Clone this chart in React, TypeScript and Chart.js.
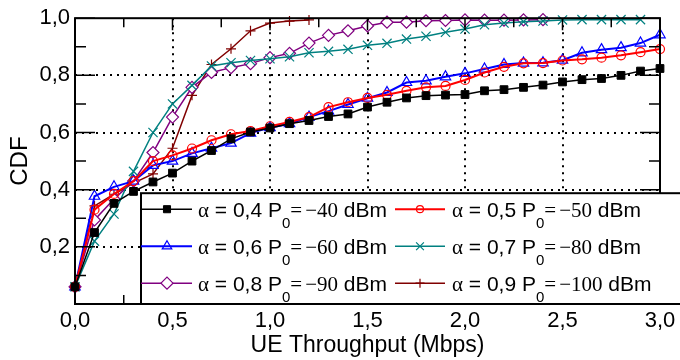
import React, { useEffect, useRef } from 'react';
import { Chart, registerables } from 'chart.js';
import { drawPoint } from 'chart.js/helpers';

Chart.register(...registerables);

// ---------- data ----------
const throughput = [
  0.0, 0.1, 0.2, 0.3, 0.4, 0.5, 0.6, 0.7, 0.8, 0.9,
  1.0, 1.1, 1.2, 1.3, 1.4, 1.5, 1.6, 1.7, 1.8, 1.9,
  2.0, 2.1, 2.2, 2.3, 2.4, 2.5, 2.6, 2.7, 2.8, 2.9, 3.0,
];

const cdfA04 = [
  0.06, 0.25, 0.352, 0.394, 0.427, 0.458, 0.5, 0.537, 0.578, 0.602,
  0.616, 0.631, 0.642, 0.656, 0.665, 0.689, 0.706, 0.721, 0.729, 0.731,
  0.733, 0.746, 0.75, 0.758, 0.766, 0.777, 0.785, 0.789, 0.8, 0.815, 0.824,
];
const cdfA05 = [
  0.06, 0.33, 0.385, 0.43, 0.5, 0.52, 0.544, 0.573, 0.594, 0.605,
  0.622, 0.637, 0.654, 0.689, 0.706, 0.721, 0.732, 0.746, 0.758, 0.763,
  0.784, 0.81, 0.83, 0.842, 0.843, 0.852, 0.856, 0.862, 0.87, 0.881, 0.892,
];
const cdfA06 = [
  0.06, 0.377, 0.41, 0.43, 0.485, 0.5, 0.527, 0.545, 0.563, 0.598,
  0.617, 0.631, 0.654, 0.675, 0.698, 0.72, 0.74, 0.775, 0.781, 0.795,
  0.807, 0.822, 0.838, 0.843, 0.844, 0.853, 0.879, 0.89, 0.897, 0.913, 0.942,
];
const cdfA07 = [
  0.06, 0.22, 0.315, 0.464, 0.6, 0.7, 0.765, 0.833, 0.844, 0.852,
  0.858, 0.865, 0.879, 0.884, 0.891, 0.905, 0.912, 0.927, 0.937, 0.951,
  0.962, 0.977, 0.983, 0.988, 0.99, 0.994, 0.995, 0.995, 0.995, 0.995,
];
const cdfA08 = [
  0.06, 0.294, 0.367, 0.43, 0.53, 0.654, 0.758, 0.81, 0.827, 0.841,
  0.862, 0.877, 0.913, 0.94, 0.956, 0.973, 0.986, 0.986, 0.991, 0.992,
  0.994, 0.993, 0.993, 0.994, 0.995,
];
const cdfA09 = [
  0.06, 0.343, 0.384, 0.423, 0.455, 0.545, 0.73, 0.838, 0.893, 0.956,
  0.983, 0.99, 0.994,
];

const seriesValues = [cdfA04, cdfA05, cdfA06, cdfA07, cdfA08, cdfA09];
const legendAlpha = ['0,4', '0,5', '0,6', '0,7', '0,8', '0,9'];
const legendP0 = ['\u221240', '\u221250', '\u221260', '\u221280', '\u221290', '\u2212100'];

const xTickValues = [0, 0.5, 1.0, 1.5, 2.0, 2.5, 3.0];
const yTickValues = [0, 0.2, 0.4, 0.6, 0.8, 1.0];
const xTitle = 'UE Throughput (Mbps)';
const yTitle = 'CDF';

// ---------- styles ----------
const SANS = "'Liberation Sans', Arial, sans-serif";
const SERIF = "'Liberation Serif', 'Times New Roman', serif";

type Style = {
  color: string;
  marker: string;
  radius: number;
  legendRadius: number;
  fill: string;
  lineWidth: number;
  pointWidth: number;
};

const seriesStyles: Style[] = [
  { color: '#000000', marker: 'rect', radius: 5.5, legendRadius: 5, fill: '#000000', lineWidth: 1.5, pointWidth: 1 },
  { color: '#ff0000', marker: 'circle', radius: 4.5, legendRadius: 3.5, fill: 'rgba(0,0,0,0)', lineWidth: 2, pointWidth: 1.2 },
  { color: '#0000ff', marker: 'triangle', radius: 6, legendRadius: 5.5, fill: 'rgba(0,0,0,0)', lineWidth: 2, pointWidth: 1.2 },
  { color: '#008080', marker: 'crossRot', radius: 6.5, legendRadius: 5.5, fill: 'rgba(0,0,0,0)', lineWidth: 1.5, pointWidth: 1.2 },
  { color: '#800080', marker: 'rectRot', radius: 6, legendRadius: 6, fill: '#ffffff', lineWidth: 1.5, pointWidth: 1.2 },
  { color: '#800000', marker: 'cross', radius: 5, legendRadius: 4.5, fill: 'rgba(0,0,0,0)', lineWidth: 1.5, pointWidth: 1.2 },
];

const fmt = (v: number) => v.toFixed(1).replace('.', ',');

// frame + inward ticks
const frameAndTicks = {
  id: 'frameAndTicks',
  afterDatasetsDraw(chart: any) {
    const { ctx, chartArea: a, scales } = chart;
    const xs = scales.x;
    const ys = scales.y;
    ctx.save();
    ctx.setLineDash([]);
    ctx.strokeStyle = '#000';
    ctx.lineWidth = 1.5;
    ctx.beginPath();
    for (let k = 0; k <= 12; k++) {
      const px = xs.getPixelForValue(k * 0.25);
      const len = k % 2 === 0 ? 12 : 9;
      ctx.moveTo(px, a.bottom);
      ctx.lineTo(px, a.bottom - len);
      ctx.moveTo(px, a.top);
      ctx.lineTo(px, a.top + len);
    }
    for (let k = 0; k <= 10; k++) {
      const py = ys.getPixelForValue(k * 0.1);
      const len = k % 2 === 0 ? 20 : 11;
      ctx.moveTo(a.left, py);
      ctx.lineTo(a.left + len, py);
      ctx.moveTo(a.right, py);
      ctx.lineTo(a.right - len, py);
    }
    ctx.stroke();
    ctx.lineWidth = 2;
    ctx.strokeRect(a.left, a.top, a.right - a.left, a.bottom - a.top);
    ctx.restore();
  },
};

// legend with subscripts
const customLegend = {
  id: 'customLegend',
  afterDraw(chart: any) {
    const { ctx, chartArea: a } = chart;
    const boxLeft = a.left + 66;
    const boxTop = a.top + 175;
    const boxRight = a.right + 40;
    const boxBottom = a.bottom;
    ctx.save();
    ctx.setLineDash([]);
    ctx.fillStyle = '#ffffff';
    ctx.fillRect(boxLeft, boxTop, boxRight - boxLeft, boxBottom - boxTop);
    ctx.strokeStyle = '#000';
    ctx.lineWidth = 2;
    ctx.strokeRect(boxLeft, boxTop, boxRight - boxLeft, boxBottom - boxTop);

    const rowY = [a.top + 191, a.top + 228, a.top + 265];
    const colLine = [
      [boxLeft, boxLeft + 51, boxLeft + 26, boxLeft + 57],
      [boxLeft + 254, boxLeft + 304, boxLeft + 279, boxLeft + 311],
    ];
    seriesStyles.forEach((s, i) => {
      const col = i % 2;
      const row = Math.floor(i / 2);
      const y = rowY[row];
      const [l0, l1, mx, tx] = colLine[col];
      ctx.strokeStyle = s.color;
      ctx.lineWidth = s.lineWidth;
      ctx.beginPath();
      ctx.moveTo(l0, y);
      ctx.lineTo(l1, y);
      ctx.stroke();
      ctx.fillStyle = s.fill;
      ctx.strokeStyle = s.color;
      ctx.lineWidth = s.pointWidth;
      drawPoint(ctx, { pointStyle: s.marker as any, radius: s.legendRadius, borderWidth: s.pointWidth, rotation: 0 } as any, mx, y);

      // text
      ctx.fillStyle = '#000';
      ctx.textBaseline = 'alphabetic';
      ctx.textAlign = 'left';
      const base = y + 7.5;
      let x = tx;
      ctx.font = `21px ${SERIF}`;
      ctx.fillText('\u03b1', x, base);
      x += ctx.measureText('\u03b1').width;
      ctx.font = `21px ${SANS}`;
      const part2 = ` = ${legendAlpha[i]} P`;
      ctx.fillText(part2, x, base);
      x += ctx.measureText(part2).width;
      ctx.font = `15px ${SANS}`;
      ctx.fillText('0', x, y + 19);
      x += ctx.measureText('0').width;
      ctx.font = `21px ${SERIF}`;
      ctx.fillText('=', x, base);
      x += ctx.measureText('=').width + 3;
      ctx.fillText(legendP0[i], x, base);
      x += ctx.measureText(legendP0[i]).width;
      ctx.font = `21px ${SANS}`;
      ctx.fillText(' dBm', x, base);
    });
    ctx.restore();
  },
};

export default function App() {
  const canvasRef = useRef<HTMLCanvasElement | null>(null);

  useEffect(() => {
    const canvas = canvasRef.current;
    if (!canvas) return;
    const gridColor = (c: any) => {
      const v = c.tick ? c.tick.value : null;
      if (v === null) return 'rgba(0,0,0,0)';
      const sc = c.scale;
      if (Math.abs(v - sc.min) < 1e-9 || Math.abs(v - sc.max) < 1e-9) return 'rgba(0,0,0,0)';
      return '#000000';
    };
    const chart = new Chart(canvas, {
      type: 'line',
      data: {
        datasets: seriesStyles.map((s, i) => ({
          label: `\u03b1 = ${legendAlpha[i]} P0 = ${legendP0[i]} dBm`,
          data: seriesValues[i].map((y, j) => ({ x: throughput[j], y })),
          borderColor: s.color,
          backgroundColor: s.color,
          borderWidth: s.lineWidth,
          pointStyle: s.marker as any,
          pointRadius: s.radius,
          pointBorderWidth: s.pointWidth,
          pointBorderColor: s.color,
          pointBackgroundColor: s.fill,
          tension: 0,
          fill: false,
          clip: false as any,
        })),
      },
      options: {
        responsive: false,
        animation: false,
        events: [],
        layout: { padding: { top: 15, right: 20, left: 0, bottom: 0 } },
        plugins: {
          legend: { display: false },
          tooltip: { enabled: false },
        },
        scales: {
          x: {
            type: 'linear',
            min: 0,
            max: 3,
            afterFit: (s: any) => {
              s.height = 56;
            },
            afterBuildTicks: (s: any) => {
              s.ticks = xTickValues.map((v) => ({ value: v }));
            },
            ticks: {
              callback: (v: any) => fmt(Number(v)),
              color: '#000',
              font: { family: SANS, size: 22 },
              padding: 4,
              maxRotation: 0,
              autoSkip: false,
            },
            grid: { color: gridColor, lineWidth: 2, drawTicks: false },
            border: { display: false, dash: [2, 5] },
            title: {
              display: true,
              text: xTitle,
              color: '#000',
              font: { family: SANS, size: 23 },
              padding: { top: 0, bottom: 1 },
            },
          },
          y: {
            type: 'linear',
            min: 0,
            max: 1,
            afterFit: (s: any) => {
              s.width = 75;
            },
            afterBuildTicks: (s: any) => {
              s.ticks = yTickValues.map((v) => ({ value: v }));
            },
            ticks: {
              callback: (v: any) => (Number(v) === 0 ? '' : fmt(Number(v))),
              color: '#000',
              font: { family: SANS, size: 22 },
              padding: 5,
              autoSkip: false,
            },
            grid: { color: gridColor, lineWidth: 2, drawTicks: false },
            border: { display: false, dash: [2, 5] },
            title: {
              display: true,
              text: yTitle,
              color: '#000',
              font: { family: SANS, size: 24 },
              padding: { top: 6, bottom: 0 },
            },
          },
        },
      } as any,
      plugins: [frameAndTicks, customLegend],
    });
    return () => chart.destroy();
  }, []);

  return (
    <div style={{ position: 'absolute', left: 0, top: 0, width: 680, height: 360, background: '#fff' }}>
      <canvas ref={canvasRef} width={680} height={360} style={{ display: 'block' }} />
    </div>
  );
}
